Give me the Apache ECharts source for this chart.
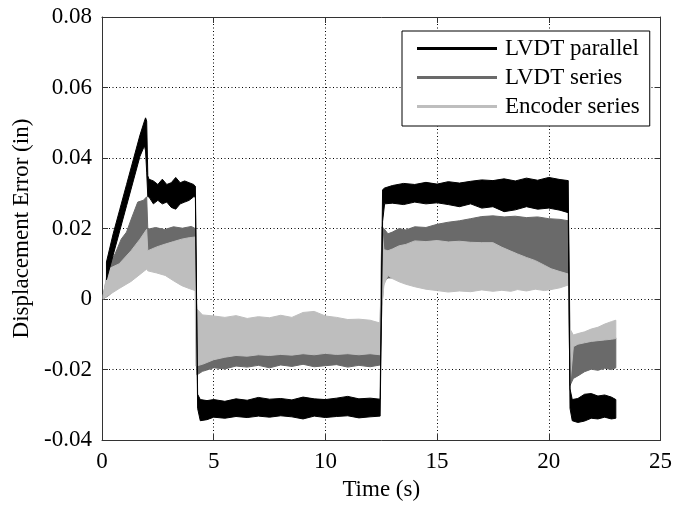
<!DOCTYPE html>
<html><head><meta charset="utf-8">
<script src="https://cdn.jsdelivr.net/npm/echarts@6/dist/echarts.min.js"></script>
<style>html,body{margin:0;padding:0;background:#fff}#c{width:675px;height:506px}</style>
</head><body><div id="c"></div><script>
// ---------- data ----------
const seriesNames = ['LVDT parallel', 'LVDT series', 'Encoder series'];
const xTickLabels = ['0', '5', '10', '15', '20', '25'];
const yTickLabels = ['-0.04', '-0.02', '0', '0.02', '0.04', '0.06', '0.08'];

// LVDT parallel: time (s), upper and lower envelope of the oscillating signal (in)
const tPar = [0.2,0.5,0.8,1.1,1.4,1.7,1.9,1.95,2.0,2.05,
  2.1,2.3,2.5,2.7,2.9,3.1,3.3,3.5,3.7,3.9,4.1,4.18,
  4.28,4.4,4.7,5.0,5.5,6.0,6.5,7.0,7.5,8.0,8.5,9.0,9.5,10.0,10.5,11.0,11.5,12.0,12.45,
  12.56,12.65,13.0,13.5,14.0,14.5,15.0,15.5,16.0,16.5,17.0,17.5,18.0,18.5,19.0,19.5,20.0,20.5,20.87,
  20.95,21.05,21.3,21.6,21.9,22.2,22.5,22.8,23.0];
const upPar = [0.0105,0.0185,0.0255,0.0325,0.0395,0.0465,0.0505,0.0514,0.0505,0.035,
  0.034,0.0335,0.0325,0.034,0.0325,0.033,0.0345,0.033,0.0335,0.033,0.0325,0.032,
  -0.027,-0.0285,-0.0288,-0.0285,-0.029,-0.0283,-0.0287,-0.0279,-0.0284,-0.0282,-0.0286,-0.0278,-0.0283,-0.0285,-0.0281,-0.0276,-0.0283,-0.0281,-0.0284,
  0.031,0.0315,0.0322,0.0328,0.0325,0.0331,0.0326,0.0333,0.0329,0.0334,0.0338,0.0336,0.0341,0.0335,0.0343,0.0337,0.0345,0.0339,0.0336,
  -0.0255,-0.0285,-0.0282,-0.027,-0.0268,-0.0275,-0.0272,-0.0278,-0.0285];
const loPar = [0.0055,0.0125,0.0195,0.0265,0.0335,0.0405,0.0435,0.042,0.036,0.029,
  0.029,0.027,0.028,0.027,0.0275,0.026,0.0255,0.027,0.0275,0.028,0.029,0.029,
  -0.031,-0.0345,-0.0342,-0.0335,-0.0338,-0.0333,-0.0336,-0.0332,-0.0335,-0.0331,-0.0334,-0.034,-0.0332,-0.0336,-0.0333,-0.0331,-0.0337,-0.0334,-0.0332,
  0.022,0.027,0.0272,0.0268,0.0275,0.027,0.0273,0.0268,0.0262,0.027,0.0258,0.0262,0.0248,0.0253,0.0262,0.0255,0.0258,0.0252,0.0245,
  -0.031,-0.0345,-0.035,-0.0346,-0.0338,-0.034,-0.0335,-0.034,-0.0338];

// LVDT series
const tSer = [0.05,0.34,0.6,0.86,1.1,1.31,1.6,1.85,2.0,
  2.05,2.4,2.8,3.2,3.6,4.0,4.17,
  4.25,4.5,5.0,5.5,6.0,6.5,7.0,7.5,8.0,8.5,9.0,9.5,10.0,10.5,11.0,11.5,12.0,12.45,
  12.53,12.62,12.8,13.0,13.3,13.6,14.0,14.5,15.0,15.5,16.0,16.5,17.0,17.5,18.0,18.5,19.0,19.5,20.0,20.5,20.88,
  20.95,21.1,21.3,21.6,21.9,22.2,22.5,22.8,23.0];
const upSer = [0.001,0.010,0.013,0.017,0.019,0.0227,0.0275,0.028,0.029,
  0.0198,0.0203,0.0197,0.0205,0.0201,0.0206,0.0200,
  -0.008,-0.008,-0.008,-0.008,-0.008,-0.008,-0.008,-0.008,-0.008,-0.008,-0.008,-0.008,-0.008,-0.008,-0.008,-0.008,-0.008,-0.008,
  0.0205,0.0200,0.0185,0.0190,0.0200,0.0196,0.0205,0.0203,0.0212,0.0218,0.0222,0.0228,0.0234,0.0236,0.0233,0.0235,0.0231,0.0233,0.0228,0.0226,0.0222,
  -0.010,-0.011,-0.011,-0.011,-0.011,-0.011,-0.011,-0.011,-0.011];
const loSer = [0,0.0012,0.0032,0.0042,0.0052,0.0062,0.0072,0.0082,0.0087,
  0.012,0.012,0.012,0.012,0.012,0.012,0.012,
  -0.0215,-0.0205,-0.0195,-0.0198,-0.019,-0.0193,-0.0188,-0.0195,-0.0187,-0.0191,-0.0185,-0.0192,-0.0189,-0.0186,-0.0193,-0.0188,-0.0192,-0.0187,
  -0.002,0.005,0.006,0.006,0.006,0.006,0.006,0.006,0.006,0.006,0.006,0.006,0.006,0.006,0.006,0.006,0.006,0.006,0.006,0.006,0.006,
  -0.0245,-0.0225,-0.0218,-0.0206,-0.0199,-0.0202,-0.0196,-0.0200,-0.0195];

// Encoder series
const tEnc = [0.05,0.27,0.77,1.3,1.7,2.0,
  2.05,2.45,2.83,3.2,3.57,3.9,4.17,
  4.2,4.5,5.0,5.5,6.0,6.5,7.0,7.5,8.0,8.5,9.0,9.5,10.0,10.5,11.0,11.5,12.0,12.45,
  12.53,12.62,12.8,13.0,13.3,13.6,14.0,14.5,15.0,15.5,16.0,16.5,17.0,17.5,17.9,18.3,18.6,19.0,19.4,19.8,20.1,20.5,20.88,
  20.95,21.1,21.3,21.6,21.9,22.2,22.5,22.8,23.0];
const upEnc = [0.001,0.0085,0.010,0.0137,0.017,0.0198,
  0.0137,0.0148,0.0156,0.0163,0.0170,0.0174,0.0176,
  -0.0025,-0.0045,-0.0048,-0.0052,-0.0047,-0.0055,-0.005,-0.0053,-0.0046,-0.0052,-0.0038,-0.0035,-0.0048,-0.0052,-0.0058,-0.0057,-0.006,-0.0068,
  0.0200,0.0140,0.0137,0.0142,0.0151,0.0155,0.0165,0.0163,0.0166,0.0162,0.0164,0.0161,0.0160,0.0160,0.0147,0.0136,0.0128,0.0118,0.0109,0.0096,0.0086,0.0078,0.0071,
  -0.0085,-0.0102,-0.0098,-0.0093,-0.0085,-0.0080,-0.0071,-0.0064,-0.0060];
const loEnc = [0,0.001,0.003,0.005,0.007,0.0085,
  0.0080,0.0074,0.0067,0.0052,0.0038,0.0030,0.0024,
  -0.019,-0.0185,-0.0172,-0.0165,-0.016,-0.0162,-0.0158,-0.016,-0.0157,-0.0159,-0.0155,-0.0158,-0.0154,-0.0157,-0.0155,-0.0158,-0.0155,-0.0158,
  -0.0020,0.0040,0.0067,0.0058,0.0049,0.0042,0.0035,0.0028,0.0024,0.0020,0.0023,0.0021,0.0026,0.0022,0.0025,0.0022,0.0027,0.0023,0.0028,0.0024,0.0027,0.0032,0.0040,
  -0.024,-0.0135,-0.0128,-0.0124,-0.0120,-0.0118,-0.0116,-0.0114,-0.0112];

// ---------- chart ----------
const FONT = "'Liberation Serif', 'DejaVu Serif', serif";
const AX = '#333';
const FS = 23;
function labelFor(list, v) {
  const s = list.find(l => Math.abs(parseFloat(l) - v) < 1e-9);
  return s === undefined ? '' : s;
}
function band(name, t, up, lo, color, z) {
  return {
    type: 'custom', name: name, z: z,
    xAxisIndex: 0, yAxisIndex: 0,
    itemStyle: { color: color },
    encode: { x: 0, y: 1 },
    data: [[t[0], up[0]]],
    renderItem: function (params, api) {
      const pts = [];
      for (let i = 0; i < t.length; i++) pts.push(api.coord([t[i], up[i]]));
      for (let i = t.length - 1; i >= 0; i--) pts.push(api.coord([t[i], lo[i]]));
      return { type: 'polygon', shape: { points: pts },
        style: { fill: color, stroke: color, lineWidth: 1 } };
    }
  };
}
const colors = ['#000000', '#6a6a6a', '#bebebe'];
const chart = echarts.init(document.getElementById('c'), null, { renderer: 'canvas' });
const baseX = { type: 'value', min: 0, max: 25, interval: 5 };
const baseY = { type: 'value', min: -0.04, max: 0.08, interval: 0.02 };
const grid = { show: true, lineStyle: { color: '#000', width: 1, type: [1, 2.5] } };
chart.setOption({
  animation: false,
  backgroundColor: '#fff',
  grid: { left: 102, right: 12, top: 17, bottom: 64 },
  legend: {
    orient: 'vertical', left: 402, top: 31,
    backgroundColor: '#fff', borderColor: '#000', borderWidth: 1,
    padding: [6, 10, 8, 15], itemGap: 6,
    itemWidth: 80, itemHeight: 3,
    textStyle: { fontFamily: FONT, fontSize: FS, color: '#000', padding: [0, 0, 0, 3] },
    data: seriesNames.map((n) => ({ name: n, icon: 'rect' }))
  },
  xAxis: [
    Object.assign({}, baseX, {
      position: 'bottom',
      name: 'Time (s)', nameLocation: 'middle', nameGap: 37,
      nameTextStyle: { fontFamily: FONT, fontSize: FS, color: '#000' },
      axisLine: { show: true, onZero: false, lineStyle: { color: AX, width: 1 } },
      axisTick: { show: true, inside: true, length: 6, lineStyle: { color: AX } },
      axisLabel: { margin: 10, fontFamily: FONT, fontSize: FS, color: '#000',
        formatter: (v) => labelFor(xTickLabels, v) },
      splitLine: grid
    }),
    Object.assign({}, baseX, {
      position: 'top',
      axisLine: { show: true, onZero: false, lineStyle: { color: AX, width: 1 } },
      axisTick: { show: true, inside: true, length: 6, lineStyle: { color: AX } },
      axisLabel: { show: false }, splitLine: { show: false }
    })
  ],
  yAxis: [
    Object.assign({}, baseY, {
      position: 'left',
      name: 'Displacement Error (in)', nameLocation: 'middle', nameGap: 68,
      nameTextStyle: { fontFamily: FONT, fontSize: FS, color: '#000' },
      axisLine: { show: true, onZero: false, lineStyle: { color: AX, width: 1 } },
      axisTick: { show: true, inside: true, length: 6, lineStyle: { color: AX } },
      axisLabel: { margin: 10, fontFamily: FONT, fontSize: FS, color: '#000',
        formatter: (v) => labelFor(yTickLabels, v) },
      splitLine: grid
    }),
    Object.assign({}, baseY, {
      position: 'right',
      axisLine: { show: true, onZero: false, lineStyle: { color: AX, width: 1 } },
      axisTick: { show: true, inside: true, length: 6, lineStyle: { color: AX } },
      axisLabel: { show: false }, splitLine: { show: false }
    })
  ],
  series: [
    band(seriesNames[1], tSer, upSer, loSer, colors[1], 2),
    band(seriesNames[2], tEnc, upEnc, loEnc, colors[2], 3),
    band(seriesNames[0], tPar, upPar, loPar, colors[0], 4)
  ]
});
</script></body></html>
